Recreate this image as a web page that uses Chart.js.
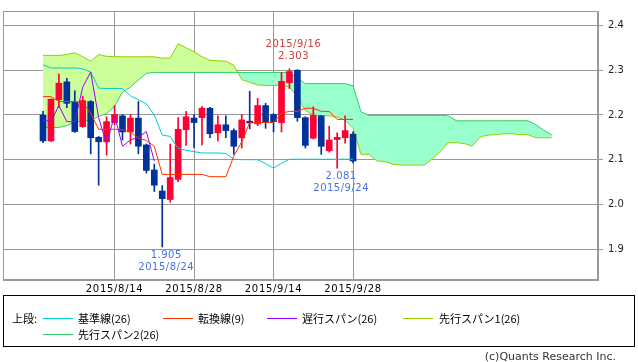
<!DOCTYPE html>
<html>
<head>
<meta charset="utf-8">
<script src="https://cdn.jsdelivr.net/npm/chart.js@4"></script>
<style>
  body { margin: 0; background: #fff; }
  #wrap { position: relative; width: 638px; height: 362px; overflow: hidden; font-family: "Noto Sans CJK JP", sans-serif; }
  #c { position: absolute; left: 0; top: 0; }
  #box { position: absolute; left: 3px; top: 295px; width: 632px; height: 52px; box-sizing: border-box; border: 1px solid #000; }
  .t { position: absolute; font-size: 11px; line-height: 12px; color: #000; white-space: nowrap; }
  .ln { position: absolute; height: 1px; width: 30px; }
  #copy { position: absolute; right: 22px; top: 351px; font: 11px "DejaVu Sans", sans-serif; line-height: 12px; color: #333; white-space: nowrap; }
</style>
</head>
<body>
<div id="wrap">
  <canvas id="c" width="638" height="362"></canvas>
  <div id="box"></div>
  <div class="t" style="left:12px;top:312px">上段:</div>
  <div class="ln" style="left:43px;top:318px;background:#00CCCC"></div>
  <div class="t" style="left:78px;top:312px">基準線(26)</div>
  <div class="ln" style="left:163px;top:318px;background:#FF3300"></div>
  <div class="t" style="left:198px;top:312px">転換線(9)</div>
  <div class="ln" style="left:267px;top:318px;background:#9900FF"></div>
  <div class="t" style="left:302px;top:312px">遅行スパン(26)</div>
  <div class="ln" style="left:403px;top:318px;background:#99CC00"></div>
  <div class="t" style="left:439px;top:312px">先行スパン1(26)</div>
  <div class="ln" style="left:43px;top:334px;background:#33CC66"></div>
  <div class="t" style="left:78px;top:328px">先行スパン2(26)</div>
  <div id="copy">(c)Quants Research Inc.</div>
</div>
<script>
const dates = ['2015/8/3','2015/8/4','2015/8/5','2015/8/6','2015/8/7','2015/8/10','2015/8/11','2015/8/12','2015/8/13','2015/8/14',
  '2015/8/17','2015/8/18','2015/8/19','2015/8/20','2015/8/21','2015/8/24','2015/8/25','2015/8/26','2015/8/27','2015/8/28',
  '2015/8/31','2015/9/1','2015/9/2','2015/9/3','2015/9/4','2015/9/8','2015/9/9','2015/9/10','2015/9/11','2015/9/14',
  '2015/9/15','2015/9/16','2015/9/17','2015/9/18','2015/9/21','2015/9/22','2015/9/23','2015/9/24','2015/9/25','2015/9/28']

const open  = [2.200,2.142,2.234,2.274,2.228,2.174,2.230,2.150,2.140,2.183, 2.198,2.162,2.193,2.133,2.077,2.030,2.011,2.056,2.167,2.193,
  2.194,2.215,2.160,2.178,2.165,2.149,2.186,2.180,2.221,2.201, 2.183,2.272,2.300,2.194,2.148,2.198,2.120,2.145,2.149,2.157]
const high  = [2.208,2.236,2.292,2.282,2.254,2.242,2.232,2.152,2.196,2.221, 2.201,2.201,2.230,2.135,2.090,2.042,2.135,2.194,2.208,2.201,
  2.219,2.217,2.198,2.198,2.169,2.201,2.253,2.237,2.226,2.203, 2.295,2.303,2.301,2.196,2.218,2.199,2.175,2.160,2.198,2.162]
const low   = [2.138,2.141,2.216,2.216,2.161,2.172,2.113,2.043,2.110,2.178, 2.144,2.135,2.113,2.070,2.029,1.905,2.005,2.051,2.132,2.127,
  2.133,2.149,2.142,2.149,2.112,2.126,2.169,2.176,2.170,2.162, 2.162,2.259,2.186,2.126,2.146,2.112,2.117,2.081,2.137,2.093]
const close = [2.142,2.235,2.271,2.226,2.163,2.232,2.149,2.140,2.185,2.201, 2.162,2.193,2.130,2.076,2.043,2.013,2.060,2.168,2.196,2.183,
  2.215,2.158,2.178,2.165,2.130,2.189,2.182,2.221,2.185,2.185, 2.275,2.297,2.194,2.132,2.199,2.130,2.144,2.150,2.165,2.097]

// 転換線(9)
const tenkan = [2.241,2.241,2.230,2.230,2.230,2.228,2.204,2.168,2.168,2.168, 2.167,2.162,2.148,2.143,2.130,2.067,2.067,2.067,2.067,2.067,
  2.067,2.062,2.062,2.062,2.108,2.140,2.183,2.183,2.183,2.183, 2.204,2.208,2.208,2.215,2.215,2.208,2.208,2.190,2.190,2.190]
// 基準線(26)
const kijun = [2.312,2.305,2.305,2.305,2.305,2.303,2.296,2.260,2.259,2.259, 2.259,2.243,2.234,2.225,2.200,2.155,2.152,2.125,2.121,2.118,
  2.115,2.115,2.115,2.114,2.101,2.100,2.100,2.100,2.091,2.081, 2.092,2.101,2.101,2.101,2.101,2.101,2.101,2.101,2.101,2.101]
// 遅行スパン(26)
const chikou = [2.189,2.185,2.221,2.185,2.185,2.262,2.296,2.194,2.135,2.199, 2.130,2.144,2.150,2.163,2.097]
// 先行スパン1 / 2 (26)
const span1 = [2.333,2.333,2.333,2.335,2.339,2.330,2.320,2.335,2.331,2.330, 2.330,2.330,2.330,2.330,2.330,2.327,2.327,2.359,2.350,2.341,
  2.330,2.322,2.321,2.320,2.311,2.279,2.273,2.267,2.266,2.266, 2.267,2.262,2.240,2.210,2.200,2.198,2.198,2.195,2.188,2.170,
  2.112,2.112,2.097,2.096,2.090,2.088,2.088,2.088,2.088,2.102, 2.119,2.138,2.138,2.136,2.130,2.151,2.155,2.156,2.158,2.158,
  2.156,2.156,2.149,2.149,2.149]
const span2 = [2.172,2.172,2.172,2.176,2.184,2.187,2.187,2.197,2.203,2.219, 2.251,2.262,2.278,2.293,2.295,2.295,2.295,2.295,2.295,2.295,
  2.295,2.295,2.295,2.295,2.295,2.295,2.295,2.295,2.295,2.295, 2.295,2.295,2.282,2.270,2.270,2.270,2.270,2.270,2.270,2.265,
  2.207,2.199,2.199,2.199,2.199,2.199,2.199,2.199,2.199,2.199, 2.199,2.198,2.187,2.187,2.187,2.187,2.187,2.187,2.187,2.187,
  2.187,2.187,2.178,2.166,2.155]

const xTickLabels = ['2015/8/14','2015/8/28','2015/9/14','2015/9/28']
const yTicks = [1.9, 2.0, 2.1, 2.2, 2.3, 2.4]
const highNote = { date: '2015/9/16', value: 2.303 }
const lowNotes = [{ date: '2015/8/24', value: 1.905 }, { date: '2015/9/24', value: 2.081 }]

const UP = '#FF0033', DOWN = '#003399'
const pts = arr => arr.map((v, i) => ({ x: i, y: v }))
const candleColors = close.map((c, i) => c >= open[i] ? UP : DOWN)

// frame, date labels and the high/low notes
const overlay = {
  id: 'overlay',
  afterDraw(chart) {
    const { ctx, chartArea: a, scales: { x, y } } = chart
    ctx.save()
    ctx.strokeStyle = '#999'
    ctx.lineWidth = 1
    ctx.strokeRect(Math.round(a.left) + 0.5, Math.round(a.top) + 0.5, Math.round(a.right - a.left) - 1, Math.round(a.bottom - a.top) - 1)

    ctx.font = '10px "DejaVu Sans"'
    ctx.textAlign = 'center'
    ctx.textBaseline = 'middle'
    ctx.letterSpacing = '0.7px'
    ctx.fillStyle = '#000'
    xTickLabels.forEach(l => ctx.fillText(l, x.getPixelForValue(dates.indexOf(l)), a.bottom + 9))

    ctx.letterSpacing = '0.5px'
    let px = x.getPixelForValue(dates.indexOf(highNote.date)) + 4
    let py = y.getPixelForValue(highNote.value)
    ctx.fillStyle = '#D03C3C'
    ctx.fillText(highNote.date, px, py - 24)
    ctx.fillText(highNote.value.toFixed(3), px, py - 12)

    ctx.fillStyle = '#4A72E8'
    lowNotes.forEach(n => {
      px = x.getPixelForValue(dates.indexOf(n.date)) + 4
      py = y.getPixelForValue(n.value)
      ctx.fillText(n.value.toFixed(3), px, py + 8)
      ctx.fillText(n.date, px, py + 20)
    })
    ctx.restore()
  }
}

new Chart(document.getElementById('c'), {
  type: 'bar',
  data: {
    datasets: [
      { type: 'line', data: pts(span1), borderColor: '#99CC00', borderWidth: 1, pointRadius: 0,
        fill: { target: 1, above: '#CCFF99', below: '#99FFCC' }, order: 10 },
      { type: 'line', data: pts(span2), borderColor: '#33CC66', borderWidth: 1, pointRadius: 0, fill: false, order: 9 },
      { data: low.map((l, i) => ({ x: i, y: [l, high[i]] })), backgroundColor: candleColors,
        barThickness: 1, grouped: false, order: 5 },
      { data: open.map((o, i) => ({ x: i, y: [Math.min(o, close[i]), Math.max(o, close[i])] })), backgroundColor: candleColors,
        barThickness: 6, grouped: false, minBarLength: 1, order: 4 },
      { type: 'line', data: pts(kijun), borderColor: '#00CCCC', borderWidth: 1, pointRadius: 0, fill: false, order: 2 },
      { type: 'line', data: pts(tenkan), borderColor: '#FF3300', borderWidth: 1, pointRadius: 0, fill: false, order: 1 },
      { type: 'line', data: pts(chikou), borderColor: '#9900FF', borderWidth: 1, pointRadius: 0, fill: false, order: 0 }
    ]
  },
  options: {
    responsive: false,
    animation: false,
    devicePixelRatio: 1,
    layout: { padding: { left: 3, top: 1, right: 0, bottom: 0 } },
    plugins: { legend: { display: false }, tooltip: { enabled: false } },
    scales: {
      x: {
        type: 'linear', min: -5.03, max: 69.81, offset: false,
        afterBuildTicks: s => { s.ticks = xTickLabels.map(l => ({ value: dates.indexOf(l) })) },
        grid: { color: '#999', drawTicks: false, offset: false },
        border: { color: '#999' },
        ticks: { display: false },
        afterFit: s => { s.height = 82 }
      },
      y: {
        position: 'right', min: 1.8311, max: 2.4323,
        afterBuildTicks: s => { s.ticks = yTicks.map(v => ({ value: v })) },
        grid: { color: '#999', tickLength: 5 },
        border: { color: '#999' },
        ticks: { font: { family: 'DejaVu Sans', size: 10 }, color: '#222', padding: 5, callback: v => v.toFixed(1) },
        afterFit: s => { s.width = 40 }
      }
    }
  },
  plugins: [overlay]
})
</script>
</body>
</html>
